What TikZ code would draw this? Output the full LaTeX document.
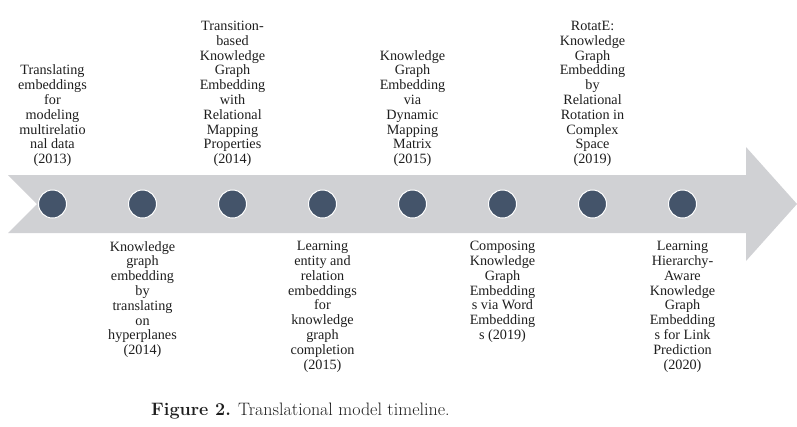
\documentclass[tikz,border=0pt]{standalone}
\usepackage{fontspec}
\newfontfamily\tnr{Liberation Serif}
\definecolor{bandgray}{HTML}{D0D1D4}
\definecolor{dotslate}{HTML}{44546A}
\definecolor{inkgray}{HTML}{1E1E1E}
\begin{document}
\begin{tikzpicture}[x=1pt,y=-1pt,
  event/.style={circle,fill=dotslate,draw=white,line width=1pt,minimum size=28pt,inner sep=0pt},
  paper/.style={align=center,inner sep=0pt,text=inkgray,font=\tnr\fontsize{14.2}{14.8}\selectfont},
  above paper/.style={paper,anchor=south},
  below paper/.style={paper,anchor=north}]
  \useasboundingbox (0,0) rectangle (797,426);
  % timeline band with notched tail and arrow head
  \fill[bandgray] (8,175) -- (746,175) -- (746,147) -- (797,204) -- (746,261)
    -- (746,233) -- (8,233) -- (37,204) -- cycle;
  % milestones
  \foreach \i in {1,...,8} {
    \node[event] (e\i) at ({52.5+90*(\i-1)},204) {};
  }
  % papers above the band
  \node[above paper] (p1) at (52.5,167) {Translating\\embeddings\\for\\modeling\\multirelatio\\nal data\\(2013)};
  \node[above paper] (p3) at (232.5,167) {Transition-\\based\\Knowledge\\Graph\\Embedding\\with\\Relational\\Mapping\\Properties\\(2014)};
  \node[above paper] (p5) at (412.5,167) {Knowledge\\Graph\\Embedding\\via\\Dynamic\\Mapping\\Matrix\\(2015)};
  \node[above paper] (p7) at (592.5,167) {RotatE:\\Knowledge\\Graph\\Embedding\\by\\Relational\\Rotation in\\Complex\\Space\\(2019)};
  % papers below the band
  \node[below paper] (p2) at (142.5,241) {Knowledge\\graph\\embedding\\by\\translating\\on\\hyperplanes\\(2014)};
  \node[below paper] (p4) at (322.5,241) {Learning\\entity and\\relation\\embeddings\\for\\knowledge\\graph\\completion\\(2015)};
  \node[below paper] (p6) at (502.5,241) {Composing\\Knowledge\\Graph\\Embedding\\s via Word\\Embedding\\s (2019)};
  \node[below paper] (p8) at (682.5,241) {Learning\\Hierarchy-\\Aware\\Knowledge\\Graph\\Embedding\\s for Link\\Prediction\\(2020)};
  % caption
  \node[anchor=base west,inner sep=0pt,text=inkgray,font=\fontsize{18}{20}\selectfont] (cap) at (151,415)
    {\textbf{Figure 2.} Translational model timeline.};
\end{tikzpicture}
\end{document}
